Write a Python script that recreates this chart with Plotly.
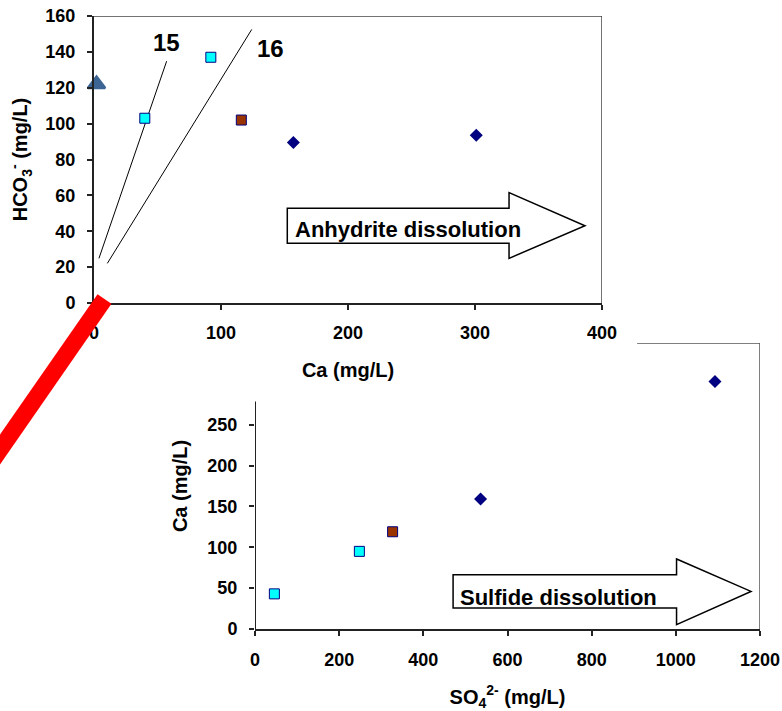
import plotly.graph_objects as go

W, H = 782, 711

# ---------------- data ----------------
# Top chart: Ca (mg/L) vs HCO3- (mg/L)
top_tri_ca = [2]
top_tri_hco3 = [122]
top_cyan_ca = [40, 92]
top_cyan_hco3 = [103, 137]
top_brown_ca = [116]
top_brown_hco3 = [102]
top_dia_ca = [157, 301]
top_dia_hco3 = [89.5, 93.5]
line15_ca = [3.9, 57.2]
line15_hco3 = [24.9, 134.8]
line16_ca = [10.5, 124.2]
line16_hco3 = [22.1, 152.5]
top_xticks = [0, 100, 200, 300, 400]
top_yticks = [0, 20, 40, 60, 80, 100, 120, 140, 160]

# Bottom chart: SO4 2- (mg/L) vs Ca (mg/L)
bot_cyan_so4 = [46, 248]
bot_cyan_ca = [43, 95]
bot_brown_so4 = [327]
bot_brown_ca = [119]
bot_dia_so4 = [536, 1093]
bot_dia_ca = [159, 303]
bot_xticks = [0, 200, 400, 600, 800, 1000, 1200]
bot_yticks = [0, 50, 100, 150, 200, 250]

# ---------------- styles ----------------
FONT = "Liberation Sans, Arial, sans-serif"
CYAN = "#00FFFF"
BROWN = "#993300"
NAVY = "#000080"
TRI = "#3D6594"

def px_x(p):
    return p / W

def px_y(p):
    return 1 - p / H

fig = go.Figure()

# top chart traces
fig.add_trace(go.Scatter(x=line15_ca, y=line15_hco3, mode="lines",
                         line=dict(color="black", width=1), xaxis="x", yaxis="y"))
fig.add_trace(go.Scatter(x=line16_ca, y=line16_hco3, mode="lines",
                         line=dict(color="black", width=1), xaxis="x", yaxis="y"))
fig.add_trace(go.Scatter(x=top_tri_ca, y=top_tri_hco3, mode="markers",
                         marker=dict(symbol="triangle-up", size=15, color=TRI,
                                     line=dict(color=TRI, width=2.5)),
                         xaxis="x", yaxis="y", cliponaxis=False))
fig.add_trace(go.Scatter(x=top_cyan_ca, y=top_cyan_hco3, mode="markers",
                         marker=dict(symbol="square", size=10, color=CYAN,
                                     line=dict(color=NAVY, width=1)),
                         xaxis="x", yaxis="y"))
fig.add_trace(go.Scatter(x=top_brown_ca, y=top_brown_hco3, mode="markers",
                         marker=dict(symbol="square", size=10, color=BROWN,
                                     line=dict(color=NAVY, width=1)),
                         xaxis="x", yaxis="y"))
fig.add_trace(go.Scatter(x=top_dia_ca, y=top_dia_hco3, mode="markers",
                         marker=dict(symbol="diamond", size=10, color=NAVY),
                         xaxis="x", yaxis="y"))

# bottom chart traces
fig.add_trace(go.Scatter(x=bot_cyan_so4, y=bot_cyan_ca, mode="markers",
                         marker=dict(symbol="square", size=10, color=CYAN,
                                     line=dict(color=NAVY, width=1)),
                         xaxis="x2", yaxis="y2"))
fig.add_trace(go.Scatter(x=bot_brown_so4, y=bot_brown_ca, mode="markers",
                         marker=dict(symbol="square", size=10, color=BROWN,
                                     line=dict(color=NAVY, width=1)),
                         xaxis="x2", yaxis="y2"))
fig.add_trace(go.Scatter(x=bot_dia_so4, y=bot_dia_ca, mode="markers",
                         marker=dict(symbol="diamond", size=10, color=NAVY),
                         xaxis="x2", yaxis="y2"))

tickfont = dict(family=FONT, size=18, color="black", weight="bold")
titlefont = dict(family=FONT, size=20, color="black", weight="bold")
AXC = "#222222"

common = dict(showgrid=False, zeroline=False, ticks="outside", ticklen=5,
              tickcolor=AXC, tickwidth=1.5, tickfont=tickfont, automargin=False,
              ticklabeloverflow="allow")

fig.update_layout(
    width=W, height=H,
    margin=dict(l=0, r=0, t=0, b=0, pad=0, autoexpand=False),
    paper_bgcolor="white", plot_bgcolor="rgba(0,0,0,0)",
    showlegend=False,
    xaxis=dict(domain=[px_x(94), px_x(602)], range=[0, 400], anchor="y",
               tickvals=top_xticks, showline=True, linecolor=AXC, linewidth=2,
               ticklabelstandoff=7,
               title=dict(text="Ca (mg/L)", font=titlefont, standoff=21), **common),
    yaxis=dict(domain=[px_y(303), px_y(16)], range=[0, 160], anchor="x",
               tickvals=top_yticks, showline=True, linecolor=AXC, linewidth=2,
               ticklabelstandoff=8,
               title=dict(text="HCO<sub>3</sub><sup>-</sup> (mg/L)", font=titlefont, standoff=12),
               **common),
    xaxis2=dict(domain=[px_x(255), px_x(760)], range=[0, 1200], anchor="y2",
                tickvals=bot_xticks, showline=True, linecolor=AXC, linewidth=2,
                ticklabelstandoff=8,
                title=dict(text="SO<sub>4</sub><sup>2-</sup> (mg/L)", font=titlefont, standoff=24),
                **common),
    yaxis2=dict(domain=[px_y(629), px_y(343)], range=[0, 350], anchor="x2",
                tickvals=bot_yticks, showline=False,
                ticklabelstandoff=8,
                title=dict(text="Ca (mg/L)", font=titlefont, standoff=14), **common),
)

shapes = []
# top chart frame (top and right borders)
shapes.append(dict(type="line", xref="x", yref="y", x0=0, x1=400, y0=160, y1=160,
                   line=dict(color="#444444", width=1.5)))
shapes.append(dict(type="line", xref="x", yref="y", x0=400, x1=400, y0=0, y1=160,
                   line=dict(color="#444444", width=1.5)))
# bottom chart frame pieces visible outside the top chart area
shapes.append(dict(type="line", xref="x2", yref="y2", x0=0, x1=0, y0=0, y1=278.5,
                   line=dict(color=AXC, width=2)))
shapes.append(dict(type="line", xref="x2", yref="y2", x0=908, x1=1200, y0=350, y1=350,
                   line=dict(color="#555555", width=1.5)))
shapes.append(dict(type="line", xref="x2", yref="y2", x0=1200, x1=1200, y0=0, y1=350,
                   line=dict(color="#555555", width=1.5)))
# block arrows
anh = "M 152.2,52.8 L 326.8,52.8 L 326.8,61.5 L 386.6,43.1 L 326.8,24.9 L 326.8,33.3 L 152.2,33.3 Z"
shapes.append(dict(type="path", xref="x", yref="y", path=anh, fillcolor="white",
                   line=dict(color="black", width=1.5)))
sul = "M 470.7,66.5 L 1001.7,66.5 L 1001.7,85.7 L 1178.6,46 L 1001.7,5.3 L 1001.7,25.7 L 470.7,25.7 Z"
shapes.append(dict(type="path", xref="x2", yref="y2", path=sul, fillcolor="white",
                   line=dict(color="black", width=1.5)))
# red connector bar
shapes.append(dict(type="line", xref="paper", yref="paper",
                   x0=px_x(104.5), y0=px_y(299), x1=px_x(-12), y1=px_y(466.8),
                   line=dict(color="#FF0000", width=17), layer="above"))
fig.update_layout(shapes=shapes)

ann_font = dict(family=FONT, size=22, color="black", weight="bold")
fig.update_layout(annotations=[
    dict(x=57, y=145, xref="x", yref="y", text="15", showarrow=False,
         font=dict(family=FONT, size=24, color="black", weight="bold")),
    dict(x=139, y=142, xref="x", yref="y", text="16", showarrow=False,
         font=dict(family=FONT, size=24, color="black", weight="bold")),
    dict(x=157, y=41, xref="x", yref="y", text="Anhydrite dissolution", showarrow=False,
         xanchor="left", yanchor="middle", font=ann_font),
    dict(x=482, y=38, xref="x2", yref="y2", text="Sulfide dissolution", showarrow=False,
         xanchor="left", yanchor="middle", font=ann_font),
])

# place the figure at the very top-left of the page (no default body margin)
fig.write_html("out.html", config={"displayModeBar": False},
               post_script="document.body.style.margin='0';document.body.style.overflow='hidden';")
